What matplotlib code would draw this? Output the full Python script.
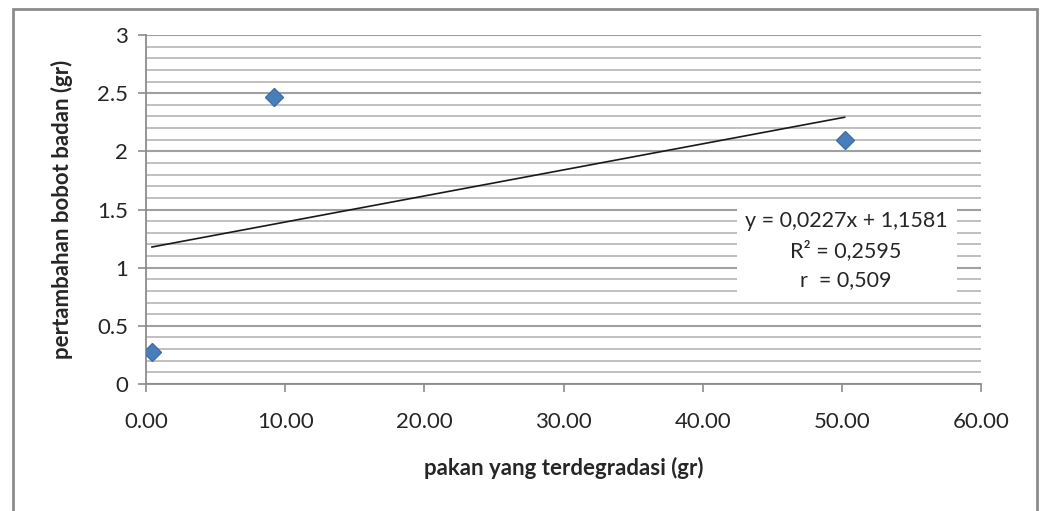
import numpy as np
import matplotlib.pyplot as plt
from matplotlib.patches import Rectangle
from matplotlib.ticker import MultipleLocator, FuncFormatter

plt.rcParams['font.family'] = ['Lato', 'DejaVu Sans']

# data
pakan = [0.43, 9.2, 50.2]        # pakan yang terdegradasi (gr)
bobot = [0.275, 2.47, 2.10]      # pertambahan bobot badan (gr)
eq_lines = ['y = 0,0227x + 1,1581', 'R² = 0,2595', 'r  = 0,509']

fig = plt.figure(figsize=(10.43, 5.11), dpi=100)
ax = fig.add_axes([146 / 1043, 1 - 384 / 511, (981 - 146) / 1043, (384 - 35) / 511])

# outer chart border (bottom edge is cut off in the picture)
fig.add_artist(Rectangle((13 / 1043, -0.05), (1037 - 13) / 1043, 1.05 - 9 / 511,
                         transform=fig.transFigure, fill=False,
                         edgecolor='#8c8c8c', linewidth=2))

ax.set_xlim(0, 60)
ax.set_ylim(0, 3)
ax.yaxis.set_major_locator(MultipleLocator(0.5))
ax.yaxis.set_minor_locator(MultipleLocator(0.1))
ax.xaxis.set_major_locator(MultipleLocator(10))
ax.xaxis.set_major_formatter(FuncFormatter(lambda v, p: f'{v:.2f}'))
ax.yaxis.set_major_formatter(FuncFormatter(lambda v, p: f'{v:g}'))

ax.grid(True, axis='y', which='major', color='#a0a0a0', linewidth=1.5)
ax.grid(True, axis='y', which='minor', color='#c0c0c0', linewidth=1.4)
ax.set_axisbelow(True)

for s in ['top', 'right']:
    ax.spines[s].set_visible(False)
for s in ['left', 'bottom']:
    ax.spines[s].set_color('#8c8c8c')
    ax.spines[s].set_linewidth(1.3)

ax.tick_params(axis='both', which='major', length=6, color='#8c8c8c', width=1.2,
               labelsize=16, labelcolor='#262626')
ax.tick_params(axis='y', which='minor', length=0)
ax.tick_params(axis='y', pad=7)
ax.tick_params(axis='x', pad=14)

# trendline
k, b = np.polyfit(pakan, bobot, 1)
xs = np.array([min(pakan), max(pakan)])
ax.plot(xs, k * xs + b, color='#1a1a1a', linewidth=1.2, zorder=3)

ax.plot(pakan, bobot, linestyle='none', marker='D', markersize=9.5,
        color='#4a7ebb', markeredgecolor='#3f6fa8', zorder=4)

ax.set_xlabel('pakan yang terdegradasi (gr)', fontsize=16, fontweight='bold',
              color='#262626', labelpad=18)
ax.set_ylabel('pertambahan bobot badan (gr)', fontsize=16, fontweight='bold',
              color='#262626', labelpad=17)

# equation box
ax.add_patch(Rectangle((42.5, 0.75), 15.8, 0.79, facecolor='white',
                       edgecolor='none', zorder=2))
ax.text(50.3, 1.15, '\n'.join(eq_lines), ha='center', va='center',
        fontsize=15.5, color='#262626', linespacing=1.55, zorder=5)

fig.savefig('out.png', dpi=100, facecolor='white')
